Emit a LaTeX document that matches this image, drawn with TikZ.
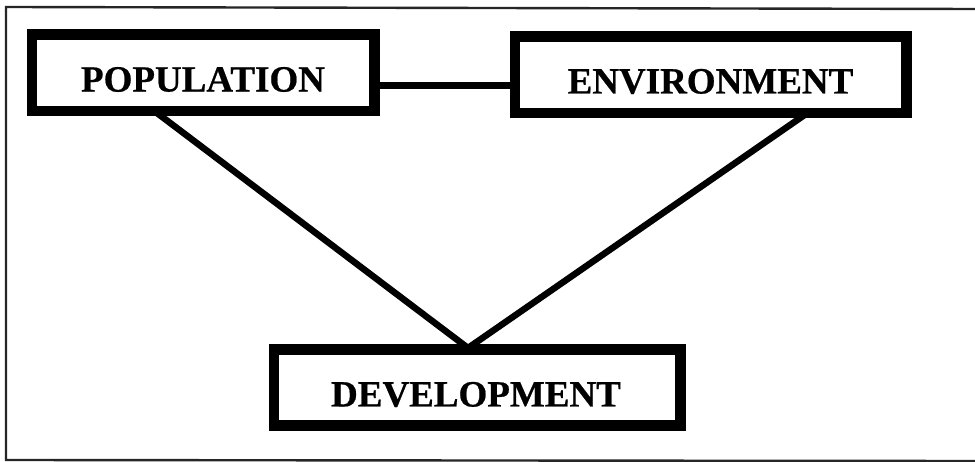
\documentclass[tikz,border=0pt]{standalone}
\usepackage{fontspec}
\setmainfont{Liberation Serif}[BoldFeatures={FakeBold=0.6}]
\usetikzlibrary{calc}
\begin{document}
\begin{tikzpicture}[x=1pt,y=-1pt,
  box/.style={draw=black, line width=7pt, fill=white, rectangle, inner sep=0pt},
  lbl/.style={inner sep=0pt, font=\bfseries\fontsize{37}{40}\selectfont},
  link/.style={draw=black, line width=6.5pt},
  frameline/.style={draw=black!85, line width=2.4pt}]
  \useasboundingbox[fill=white] (0,0) rectangle (975,462);

  % outer frame (open on the right)
  \draw[frameline] (975,9) -- (6,7) -- (6,460) -- (975,461);

  % boxes
  \node[box, minimum width=339pt, minimum height=73pt] (pop) at (203,73) {};
  \node[box, minimum width=388pt, minimum height=73pt] (env) at (710.5,75) {};
  \node[box, minimum width=403pt, minimum height=72pt] (dev) at (477,387.5) {};

  % where the diagonals meet the boxes
  \coordinate (apex) at ($(dev.north)+(-9,0)$);
  \coordinate (popfoot) at ($(pop.south)+(-46,0)$);
  \coordinate (envfoot) at ($(env.south)+(94,0)$);

  % connectors
  \draw[link] (pop.east |- 0,85.5) -- (env.west |- 0,85.5);
  \draw[link] (popfoot) -- (apex) -- (envfoot);

  % box outlines again, over the connector ends
  \draw[box, fill=none] (pop.south west) rectangle (pop.north east);
  \draw[box, fill=none] (env.south west) rectangle (env.north east);
  \draw[box, fill=none] (dev.south west) rectangle (dev.north east);

  % labels
  \node[lbl] (poptext) at ($(pop.center)+(0,6.5)$) {POPULATION};
  \node[lbl] (envtext) at ($(env.center)+(0,6.5)$) {ENVIRONMENT};
  \node[lbl] (devtext) at ($(dev.center)+(-1,7)$) {DEVELOPMENT};
\end{tikzpicture}
\end{document}
